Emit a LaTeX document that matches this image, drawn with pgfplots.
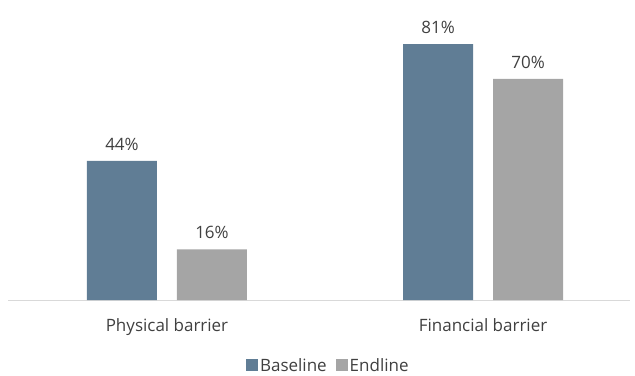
\documentclass[border=0pt]{standalone}
\usepackage{pgfplots}
\pgfplotsset{compat=1.18}
\usepackage{fontspec}
\setmainfont{Open Sans}
\definecolor{base}{HTML}{607D95}
\definecolor{endl}{HTML}{A5A5A5}
\definecolor{txt}{HTML}{404040}
\definecolor{axl}{HTML}{D9D9D9}
\begin{document}
\begin{tikzpicture}
\useasboundingbox (0,0) rectangle (635bp,376bp);
\begin{axis}[
  at={(8bp,76bp)}, anchor=south west,
  scale only axis, width=622bp, height=290bp,
  xmin=-0.503, xmax=1.465, ymin=0, ymax=91.77,
  ybar, bar width=0.2215,
  axis y line=none,
  axis x line*=bottom,
  x axis line style={axl, line width=1bp, -},
  xtick={0,1}, xticklabels={Physical barrier, Financial barrier},
  major tick length=0pt,
  /pgf/number format/assume math mode=true,
  xticklabel style={font=\fontsize{17bp}{20bp}\selectfont, text=txt, yshift=-15bp},
  nodes near coords={\pgfmathprintnumber{\pgfplotspointmeta}\%},
  every node near coord/.append style={font=\fontsize{17bp}{20bp}\selectfont, text=txt, anchor=south, yshift=7bp},
  legend style={draw=none, fill=none, at={(0.515,-0.226)}, anchor=center, legend columns=2,
    font=\fontsize{17bp}{20bp}\selectfont, text=txt, inner sep=0pt,
    /tikz/every even column/.append style={column sep=7bp}},
  legend image code/.code={\fill[#1] (0bp,-5.5bp) rectangle (12bp,6.5bp);},
  clip=false,
]
\addplot[fill=base, draw=none, bar shift=-0.1424] coordinates {(0,44) (1,81)};
\addplot[fill=endl, draw=none, bar shift=0.1424] coordinates {(0,16) (1,70)};
\legend{Baseline, Endline}
\end{axis}
\end{tikzpicture}
\end{document}
